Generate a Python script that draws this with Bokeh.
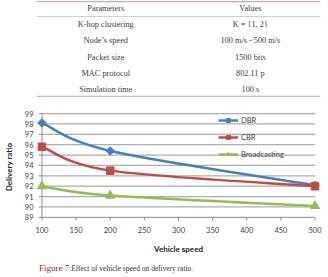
from bokeh.plotting import figure
from bokeh.layouts import column
from bokeh.models import Range1d, Legend, LegendItem, FixedTicker
from bokeh.core.properties import value
from bokeh.embed import file_html
from bokeh.resources import INLINE

# ---- simulation parameter table ----
table_header = ["Parameters", "Values"]
param_names = ["K-hop clustering", "Node\u2019s speed", "Packet size", "MAC protocol", "Simulation time"]
param_values = ["K = {1, 2}", "100 m/s - 500 m/s", "1500 bits", "802.11 p", "100 s"]

# ---- delivery ratio vs. vehicle speed ----
speeds = [100, 200, 500]
dbr = [98.1, 95.4, 92.1]
cbr = [95.8, 93.5, 92.0]
broadcasting = [92.0, 91.1, 90.1]
series_names = ["DBR", "CBR", "Broadcasting"]
x_ticks = [100, 150, 200, 250, 300, 350, 400, 450, 500]
y_ticks = [89, 90, 91, 92, 93, 94, 95, 96, 97, 98, 99]

caption_label = "Figure 7."
caption_text = "Effect of vehicle speed on delivery ratio."

W = 328
TABLE_H, CHART_H, CAPTION_H = 97, 164, 16
SERIF = "Liberation Serif"
SANS = "Lato"
COLORS = ["#4A7EBB", "#BE4B48", "#98B954"]
AXIS_GREY = "#8a8a8a"


def blank_figure(height):
    p = figure(width=W, height=height, x_range=Range1d(0, W), y_range=Range1d(height, 0),
               x_axis_type=None, y_axis_type=None, output_backend="svg",
               toolbar_location=None, min_border=0)
    p.grid.visible = False
    p.outline_line_color = None
    return p


# table: rule lines plus two centred text columns
table = blank_figure(TABLE_H)
table.hspan(y=[1, 15.5, 96], line_color=["#c8b0b5", "#dccbce", "#c8b0b5"], line_width=[1.6, 1, 1.6])
row_y = [24 + 16.3 * i for i in range(len(param_names))]
text_style = dict(text_font=value(SERIF), text_font_size="8.3px", text_align="center",
                  text_baseline="middle", text_color="#3c3c3c")
table.text(x=[80, 247], y=[8, 8], text=table_header, **text_style)
table.text(x=[80] * len(param_names), y=row_y, text=param_names, **text_style)
table.text(x=[247] * len(param_values), y=row_y, text=param_values, **text_style)


def smooth_segments(xs, ys):
    """Cubic Bezier pieces (Catmull-Rom style) through the given points."""
    n = len(xs)
    seg = {k: [] for k in ("x0", "y0", "x1", "y1", "cx0", "cy0", "cx1", "cy1")}
    for i in range(n - 1):
        a, d = max(i - 1, 0), min(i + 2, n - 1)
        seg["x0"].append(xs[i]); seg["y0"].append(ys[i])
        seg["x1"].append(xs[i + 1]); seg["y1"].append(ys[i + 1])
        seg["cx0"].append(xs[i] + (xs[i + 1] - xs[a]) / 6)
        seg["cy0"].append(ys[i] + (ys[i + 1] - ys[a]) / 6)
        seg["cx1"].append(xs[i + 1] - (xs[d] - xs[i]) / 6)
        seg["cy1"].append(ys[i + 1] - (ys[d] - ys[i]) / 6)
    return seg


# the frame is a little wider than the axes so edge markers are not cut off
X_PAD, Y_PAD_LO, Y_PAD_HI = 8, 0.4, 0.1
FRAME_L, FRAME_R, FRAME_T, FRAME_B = 35, 8, 15, 40
chart = figure(width=W, height=CHART_H,
               x_range=Range1d(x_ticks[0] - X_PAD, x_ticks[-1] + X_PAD),
               y_range=Range1d(y_ticks[0] - Y_PAD_LO, y_ticks[-1] + Y_PAD_HI),
               output_backend="svg", toolbar_location=None,
               min_border_left=FRAME_L, min_border_right=FRAME_R,
               min_border_top=FRAME_T, min_border_bottom=FRAME_B)
chart.outline_line_color = None
chart.grid.visible = False

# pixel size of one data unit, used for the short tick marks
px_x = (W - FRAME_L - FRAME_R) / (x_ticks[-1] - x_ticks[0] + 2 * X_PAD)
px_y = (CHART_H - FRAME_T - FRAME_B) / (y_ticks[-1] - y_ticks[0] + Y_PAD_LO + Y_PAD_HI)
TICK = 3

# horizontal gridlines between the two axes
n_grid = len(y_ticks) - 1
chart.segment(x0=[x_ticks[0]] * n_grid, x1=[x_ticks[-1]] * n_grid,
              y0=y_ticks[1:], y1=y_ticks[1:], line_color="#adadad", line_width=1.2)
# axis lines and outward tick marks
chart.segment(x0=[x_ticks[0], x_ticks[0]], y0=[y_ticks[0], y_ticks[0]],
              x1=[x_ticks[0], x_ticks[-1]], y1=[y_ticks[-1], y_ticks[0]],
              line_color=AXIS_GREY, line_width=1)
chart.segment(x0=[x_ticks[0] - TICK / px_x] * len(y_ticks), x1=[x_ticks[0]] * len(y_ticks),
              y0=y_ticks, y1=y_ticks, line_color=AXIS_GREY, line_width=1)
chart.segment(x0=x_ticks, x1=x_ticks, y0=[y_ticks[0]] * len(x_ticks),
              y1=[y_ticks[0] - TICK / px_y] * len(x_ticks), line_color=AXIS_GREY, line_width=1)

xa = chart.xaxis[0]
xa.ticker = FixedTicker(ticks=x_ticks)
xa.axis_label = "Vehicle speed"
ya = chart.yaxis[0]
ya.ticker = FixedTicker(ticks=y_ticks)
ya.axis_label = "Delivery ratio"
for ax in (xa, ya):
    ax.axis_line_color = None
    ax.major_tick_line_color = None
    ax.major_tick_in = 0
    ax.major_tick_out = 0
    ax.minor_tick_line_color = None
    ax.major_label_text_font = SANS
    ax.major_label_text_font_size = "7.5px"
    ax.major_label_text_color = "#404040"
    ax.axis_label_text_font = SANS
    ax.axis_label_text_font_size = "8px"
    ax.axis_label_text_font_style = "bold"
    ax.axis_label_text_color = "#202020"
xa.major_label_standoff = 5
xa.axis_label_standoff = 8
ya.major_label_standoff = 3
ya.axis_label_standoff = 8

markers = [("square", 6, 0.785398), ("square", 7.5, 0.0), ("triangle", 9, 0.0)]
items = []
for name, ys, color, (mk, size, ang) in zip(series_names, [dbr, cbr, broadcasting], COLORS, markers):
    curve = chart.bezier(line_color=color, line_width=2.5, **smooth_segments(speeds, ys))
    pts = chart.scatter(x=speeds, y=ys, marker=mk, size=size, angle=ang,
                        fill_color=color, line_color=color)
    items.append(LegendItem(label=name, renderers=[curve, pts]))

legend = Legend(items=items, location=(182, 62), padding=0, margin=0, spacing=7,
                glyph_height=10, glyph_width=20, label_height=10, label_standoff=3,
                border_line_color=None, background_fill_alpha=0,
                label_text_font=SANS, label_text_font_size="7.5px", label_text_color="#404040")
chart.add_layout(legend)

# figure caption
cap = blank_figure(CAPTION_H)
cap.text(x=[3], y=[6.5], text=[caption_label], text_font=value(SERIF), text_font_size="9px",
         text_baseline="middle", text_color="#a3272f")
cap.text(x=[40], y=[6.5], text=[caption_text], text_font=value(SERIF), text_font_size="7.5px",
         text_baseline="middle", text_color="#333333")

page = column(table, chart, cap, spacing=0)
open("out.html", "w").write(file_html(page, INLINE))
